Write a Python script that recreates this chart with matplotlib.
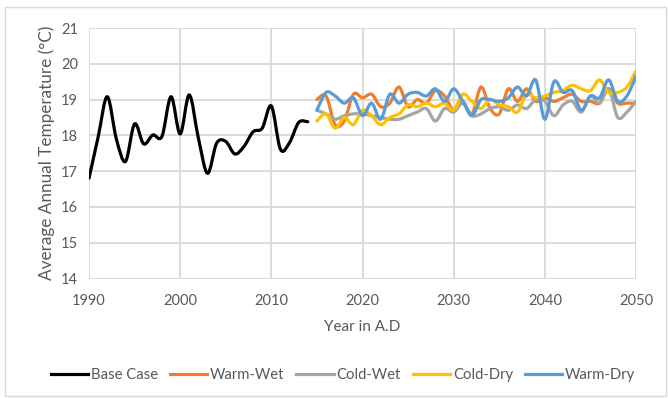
import matplotlib
matplotlib.use('Agg')
import matplotlib.pyplot as plt
import numpy as np
from matplotlib.path import Path
from matplotlib.patches import PathPatch, Rectangle
from matplotlib.lines import Line2D

plt.rcParams['font.family'] = ['Lato', 'DejaVu Sans']

base_years = list(range(1990, 2015))
base_case = [16.8, 17.95, 19.08, 17.9, 17.27, 18.32, 17.76, 18.01, 17.97, 19.08,
             18.04, 19.13, 17.92, 16.94, 17.78, 17.83, 17.48, 17.69, 18.10, 18.2,
             18.82, 17.61, 17.8, 18.36, 18.38]

future_years = list(range(2015, 2051))
warm_wet = [19.0, 19.1, 18.3, 18.4, 19.15, 19.05, 19.15, 18.8, 18.9, 19.35,
            18.8, 19.0, 18.9, 19.25, 19.1, 18.7, 18.95, 18.6, 19.35, 18.75,
            18.6, 19.3, 18.95, 19.3, 18.95, 19.05, 18.95, 19.05, 19.15, 18.95,
            18.95, 18.9, 19.3, 18.9, 18.9, 18.9]
cold_wet = [18.7, 18.6, 18.45, 18.55, 18.6, 18.6, 18.55, 18.5, 18.45, 18.45,
            18.55, 18.65, 18.75, 18.4, 18.75, 18.65, 18.9, 18.55, 18.6, 18.75,
            18.8, 18.7, 18.85, 18.75, 19.0, 18.95, 18.55, 18.85, 18.95, 18.65,
            19.1, 18.9, 19.3, 18.5, 18.65, 18.95]
cold_dry = [18.4, 18.6, 18.2, 18.5, 18.3, 18.7, 18.55, 18.3, 18.5, 18.6,
            18.85, 18.8, 18.9, 18.8, 18.9, 18.7, 19.15, 18.95, 18.75, 19.0,
            18.85, 18.8, 18.65, 19.15, 19.05, 19.1, 19.2, 19.25, 19.4, 19.3,
            19.25, 19.55, 19.2, 19.2, 19.35, 19.8]
warm_dry = [18.7, 19.2, 19.1, 18.9, 19.05, 18.55, 18.9, 18.45, 19.15, 18.9,
            19.15, 19.2, 19.1, 19.3, 18.95, 19.3, 18.95, 18.55, 19.0, 19.0,
            18.95, 19.05, 19.35, 19.1, 19.55, 18.45, 19.5, 19.2, 19.25, 18.7,
            19.1, 19.05, 19.55, 18.95, 19.1, 19.65]


def smooth_path(x, y):
    # Catmull-Rom style bezier segments, like a spreadsheet's "smoothed line"
    pts = np.column_stack([x, y]).astype(float)
    n = len(pts)
    verts = [pts[0]]
    codes = [Path.MOVETO]
    for i in range(n - 1):
        p0 = pts[i - 1] if i > 0 else pts[i]
        p1 = pts[i]
        p2 = pts[i + 1]
        p3 = pts[i + 2] if i + 2 < n else pts[i + 1]
        c1 = p1 + (p2 - p0) / 6.0
        c2 = p2 - (p3 - p1) / 6.0
        verts += [c1, c2, p2]
        codes += [Path.CURVE4] * 3
    return Path(verts, codes)


fig = plt.figure(figsize=(6.68, 3.98), dpi=100)
fig.patches.append(Rectangle((5 / 668, 2 / 398), 661 / 668, 389 / 398,
                             transform=fig.transFigure, fill=False,
                             edgecolor='#d9d9d9', linewidth=1))
ax = fig.add_axes([89 / 668, (398 - 278.5) / 398, 547 / 668, 250.5 / 398])

series = [
    ('Base Case', base_years, base_case, 'black'),
    ('Warm-Wet', future_years, warm_wet, '#ED7D31'),
    ('Cold-Wet', future_years, cold_wet, '#A5A5A5'),
    ('Cold-Dry', future_years, cold_dry, '#FFC000'),
    ('Warm-Dry', future_years, warm_dry, '#5B9BD5'),
]

handles = []
for name, xs, ys, color in series:
    ax.add_patch(PathPatch(smooth_path(xs, ys), facecolor='none',
                           edgecolor=color, linewidth=2.3,
                           capstyle='round', joinstyle='round', zorder=3))
    handles.append(Line2D([], [], color=color, linewidth=2.3, label=name))

ax.set_xlim(1990, 2050)
ax.set_ylim(14, 21)
ax.set_xticks(range(1990, 2051, 10))
ax.set_yticks(range(14, 22))
ax.grid(True, color='#d9d9d9', linewidth=1.3)
ax.set_axisbelow(True)
for s in ax.spines.values():
    s.set_visible(False)
ax.tick_params(axis='x', length=0, labelsize=10.5, labelcolor='#595959', pad=11)
ax.tick_params(axis='y', length=0, labelsize=10.5, labelcolor='#595959', pad=8)

ax.set_xlabel('Year in A.D', fontsize=11, color='#595959', labelpad=9)
ax.set_ylabel('Average Annual Temperature (°C)', fontsize=12.3,
              color='#595959', labelpad=4)

fig.legend(handles=handles, loc='center', bbox_to_anchor=(343 / 668, 1 - 375 / 398),
           ncol=5, frameon=False, fontsize=10.7, handlelength=2.5,
           handletextpad=0.2, columnspacing=0.8, labelcolor='#595959')

fig.savefig('out.png', dpi=100)
